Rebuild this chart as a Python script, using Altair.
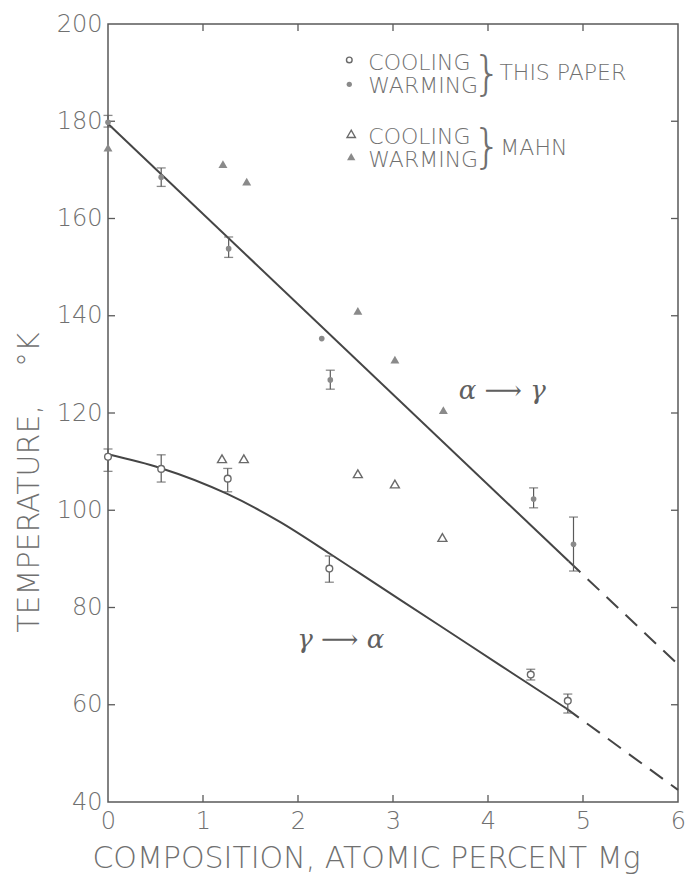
import altair as alt
import pandas as pd

# ---------------- data ----------------
# This paper, cooling (open circles) with error bars
tp_cool_x = [0.0, 0.56, 1.26, 2.33, 4.45, 4.84]
tp_cool_t = [111.0, 108.5, 106.5, 88.0, 66.2, 60.8]
tp_cool_lo = [108.0, 105.8, 103.8, 85.2, 65.1, 58.3]
tp_cool_hi = [112.6, 111.4, 108.6, 90.6, 67.3, 62.2]

# This paper, warming (filled circles) with error bars
tp_warm_x = [0.0, 0.56, 1.27, 2.25, 2.34, 4.48, 4.90]
tp_warm_t = [179.8, 168.5, 153.8, 135.3, 126.8, 102.3, 93.0]
tp_warm_lo = [178.8, 166.6, 152.0, 135.3, 124.9, 100.5, 87.5]
tp_warm_hi = [181.2, 170.4, 156.2, 135.3, 128.8, 104.6, 98.6]

# Mahn, cooling (open triangles)
mahn_cool_x = [1.20, 1.43, 2.63, 3.02, 3.52]
mahn_cool_t = [110.6, 110.6, 107.5, 105.4, 94.4]

# Mahn, warming (filled triangles)
mahn_warm_x = [0.0, 1.21, 1.46, 2.63, 3.02, 3.53]
mahn_warm_t = [174.6, 171.2, 167.6, 141.0, 131.0, 120.6]

# alpha -> gamma line (solid part, dashed extrapolation)
up_x = [0.0, 4.85]
up_t = [179.5, 89.5]
up_dash_x = [4.85, 6.0]
up_dash_t = [89.5, 68.3]

# gamma -> alpha curve (solid part, dashed extrapolation)
lo_x = [0.0, 0.55, 1.25, 1.81, 2.34, 2.66, 3.49, 4.13, 4.82]
lo_t = [111.5, 108.7, 103.4, 97.6, 91.0, 86.9, 76.3, 68.1, 59.3]
lo_dash_x = [4.82, 6.0]
lo_dash_t = [59.3, 42.5]

x_ticks = [0, 1, 2, 3, 4, 5, 6]
y_ticks = [40, 60, 80, 100, 120, 140, 160, 180, 200]
x_inner = [1, 2, 3, 4, 5]
y_inner = [60, 80, 100, 120, 140, 160, 180]

# legend / annotation texts
leg_text = ["COOLING", "WARMING", "COOLING", "WARMING", "THIS PAPER", "MAHN"]
leg_x = [2.74, 2.74, 2.74, 2.74, 4.12, 4.13]
leg_t = [192.0, 187.3, 176.8, 172.1, 190.0, 174.6]
brace_x = [3.99, 3.99]
brace_t = [189.6, 174.4]
greek_text = ["\u03b1 \u27f6 \u03b3", "\u03b3 \u27f6 \u03b1"]
greek_x = [4.15, 2.45]
greek_t = [124.6, 73.4]
sym_x = [2.54, 2.54, 2.56, 2.56]
sym_t = [192.6, 187.6, 177.4, 172.7]

# ---------------- styling ----------------
INK = "#5a5a5a"
TXT = "#707070"
FONT = "DejaVu Sans"
W, H = 570, 778

xs = alt.Scale(domain=[0, 6], nice=False, zero=False)
ys = alt.Scale(domain=[40, 200], nice=False, zero=False)

x_axis = alt.Axis(
    values=x_ticks, format="d", ticks=False, domain=False, grid=False,
    labelFontSize=24, labelColor=TXT, labelFont=FONT, labelFontWeight=200,
    labelPadding=7, labelFlush=False, labelOverlap=False,
    title="COMPOSITION, ATOMIC PERCENT Mg", titleFontSize=30,
    titleFont=FONT, titleFontWeight=200, titleColor=TXT, titlePadding=10,
    titleX=258)
y_axis = alt.Axis(
    values=y_ticks, format="d", ticks=False, domain=False, grid=False,
    labelFontSize=24, labelColor=TXT, labelFont=FONT, labelFontWeight=200,
    labelPadding=6, labelFlush=False, labelOverlap=False,
    title="TEMPERATURE,\u00a0\u00a0\u00a0\u00a0\u00b0K", titleFontSize=30,
    titleFont=FONT, titleFontWeight=200, titleColor=TXT, titlePadding=12,
    titleY=458)


def X(f="x"):
    return alt.X(f"{f}:Q", scale=xs, axis=x_axis)


def Y(f="t"):
    return alt.Y(f"{f}:Q", scale=ys, axis=y_axis)


# inward ticks on all four sides
xt = pd.DataFrame({"x": x_inner})
yt = pd.DataFrame({"t": y_inner})
tick_b = alt.Chart(xt).mark_rule(color=INK, strokeWidth=1.3).encode(
    x=X(), y=alt.value(H), y2=alt.value(H - 7))
tick_t = alt.Chart(xt).mark_rule(color=INK, strokeWidth=1.3).encode(
    x=X(), y=alt.value(0), y2=alt.value(7))
tick_l = alt.Chart(yt).mark_rule(color=INK, strokeWidth=1.3).encode(
    y=Y(), x=alt.value(0), x2=alt.value(7))
tick_r = alt.Chart(yt).mark_rule(color=INK, strokeWidth=1.3).encode(
    y=Y(), x=alt.value(W), x2=alt.value(W - 7))


# curves
def line(xv, tv, dash=None, interp="linear"):
    df = pd.DataFrame({"x": xv, "t": tv})
    kw = dict(color="#454545", strokeWidth=2.0, interpolate=interp)
    if dash:
        kw["strokeDash"] = dash
    return alt.Chart(df).mark_line(**kw).encode(x=X(), y=Y())


up_solid = line(up_x, up_t)
up_dash = line(up_dash_x, up_dash_t, dash=[16, 10])
lo_solid = line(lo_x, lo_t, interp="monotone")
lo_dash = line(lo_dash_x, lo_dash_t, dash=[16, 10])

# error bars
err_df = pd.DataFrame({
    "x": tp_cool_x + tp_warm_x,
    "lo": tp_cool_lo + tp_warm_lo,
    "hi": tp_cool_hi + tp_warm_hi,
})
err_df = err_df[err_df["hi"] > err_df["lo"]]
err = alt.Chart(err_df).mark_rule(color=INK, strokeWidth=1.2).encode(
    x=X(), y=Y("lo"), y2="hi:Q")
caps_df = pd.DataFrame({
    "x": list(err_df["x"]) * 2,
    "t": list(err_df["lo"]) + list(err_df["hi"]),
})
caps = alt.Chart(caps_df).mark_tick(
    orient="horizontal", color=INK, size=9, thickness=1.3).encode(x=X(), y=Y())


# points
def pts(xv, tv, shape, filled, size):
    df = pd.DataFrame({"x": xv, "t": tv})
    return alt.Chart(df).mark_point(
        shape=shape, filled=filled, size=size, strokeWidth=1.4,
        color="#6a6a6a", fill="#8a8a8a" if filled else "white",
        opacity=1).encode(x=X(), y=Y())


p_tc = pts(tp_cool_x, tp_cool_t, "circle", False, 45)
p_tw = pts(tp_warm_x, tp_warm_t, "circle", True, 32)
p_mc = pts(mahn_cool_x, mahn_cool_t, "triangle-up", False, 80)
p_mw = pts(mahn_warm_x, mahn_warm_t, "triangle-up", True, 80)

# legend symbols
s_tc = pts(sym_x[0:1], sym_t[0:1], "circle", False, 32)
s_tw = pts(sym_x[1:2], sym_t[1:2], "circle", True, 28)
s_mc = pts(sym_x[2:3], sym_t[2:3], "triangle-up", False, 70)
s_mw = pts(sym_x[3:4], sym_t[3:4], "triangle-up", True, 70)

leg_df = pd.DataFrame({"x": leg_x, "t": leg_t, "txt": leg_text})
leg = alt.Chart(leg_df).mark_text(
    align="left", baseline="middle", font=FONT, fontSize=22, fontWeight=200,
    color=TXT).encode(x=X(), y=Y(), text="txt:N")

br_df = pd.DataFrame({"x": brace_x, "t": brace_t, "txt": ["}", "}"]})
br = alt.Chart(br_df).mark_text(
    align="center", baseline="middle", font=FONT, fontSize=46, fontWeight=200,
    color=TXT).encode(x=X(), y=Y(), text="txt:N")

gr_df = pd.DataFrame({"x": greek_x, "t": greek_t, "txt": greek_text})
gr = alt.Chart(gr_df).mark_text(
    align="center", baseline="middle", font="DejaVu Serif", fontSize=26,
    fontStyle="italic", color="#606060").encode(
    x=X(), y=Y(), text="txt:N")

chart = alt.layer(
    tick_b, tick_t, tick_l, tick_r,
    up_solid, up_dash, lo_solid, lo_dash,
    err, caps, p_tc, p_tw, p_mc, p_mw,
    s_tc, s_tw, s_mc, s_mw, leg, br, gr,
).properties(
    width=W, height=H,
    autosize=alt.AutoSizeParams(type="none"),
    padding={"left": 108, "top": 24, "right": 10, "bottom": 93},
    background="white",
).configure_view(stroke=INK, strokeWidth=1.5)

chart.save("out.html", embed_options={"renderer": "svg", "actions": False})
